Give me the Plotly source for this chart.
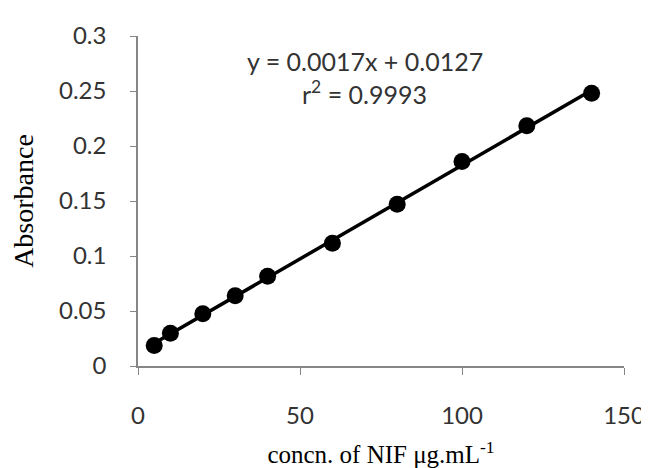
import numpy as np
import plotly.graph_objects as go

conc = [5, 10, 20, 30, 40, 60, 80, 100, 120, 140]
absorbance = [0.0186, 0.0298, 0.0476, 0.0638, 0.0815, 0.1116, 0.147, 0.186, 0.2185, 0.248]
x_ticks = [0, 50, 100, 150]
y_ticks = [0, 0.05, 0.1, 0.15, 0.2, 0.25, 0.3]
y_tick_text = ["0", "0.05", "0.1", "0.15", "0.2", "0.25", "0.3"]
eq_text = "y = 0.0017x + 0.0127"
r2_text = "r<sup>2</sup> = 0.9993"

slope, intercept = np.polyfit(conc, absorbance, 1)
fit_x = [min(conc), max(conc)]
fit_y = [slope * v + intercept for v in fit_x]

fig = go.Figure()
fig.add_trace(go.Scatter(x=fit_x, y=fit_y, mode="lines",
                         line=dict(color="black", width=3.5), showlegend=False))
fig.add_trace(go.Scatter(x=conc, y=absorbance, mode="markers",
                         marker=dict(color="black", size=17), showlegend=False))

tick_font = dict(family="Lato", size=24, color="#333333")
fig.update_layout(
    width=649, height=468,
    margin=dict(l=130, r=24, t=24, b=105),
    paper_bgcolor="white", plot_bgcolor="white",
    xaxis=dict(range=[0, 150], tickvals=x_ticks, ticks="outside", ticklen=7,
               tickcolor="#868686", showline=True, linecolor="#868686", linewidth=1.5,
               showgrid=False, zeroline=False, tickfont=tick_font, ticklabelstandoff=20,
               title=dict(text="concn. of NIF μg.mL<sup>-1</sup>",
                          font=dict(family="Liberation Serif", size=25, color="black"),
                          standoff=18)),
    yaxis=dict(range=[0, 0.3], tickvals=y_ticks, ticktext=y_tick_text, ticks="outside",
               ticklen=6, tickcolor="#868686", showline=True, linecolor="#868686",
               linewidth=1.5, showgrid=False, zeroline=False, tickfont=tick_font,
               ticklabelstandoff=19,
               title=dict(text="Absorbance",
                          font=dict(family="Liberation Serif", size=28, color="black"),
                          standoff=18)),
)
fig.add_annotation(x=70, xref="x", y=0.277, yref="y", yanchor="middle",
                   text=eq_text, showarrow=False, font=dict(family="Lato", size=25, color="#333333"))
fig.add_annotation(x=70, xref="x", y=0.249, yref="y", yanchor="middle",
                   text=r2_text, showarrow=False, font=dict(family="Lato", size=25, color="#333333"))
fig.write_html("out.html")
